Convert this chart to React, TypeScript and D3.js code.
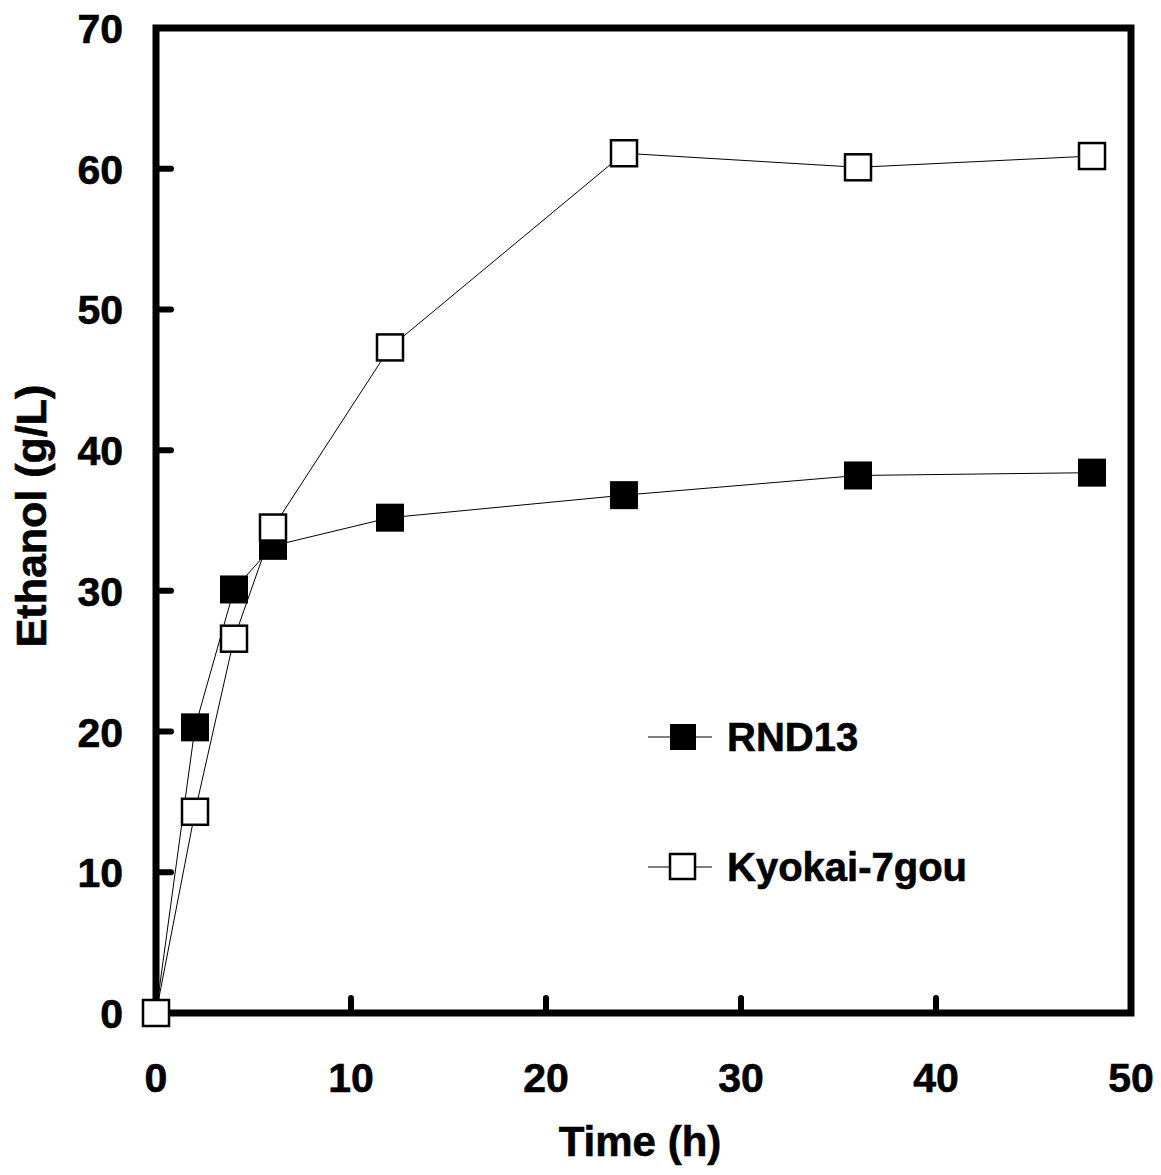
import React from "react";
import * as d3 from "d3";

const timeH = [0, 2, 4, 6, 12, 24, 36, 48];
const rnd13 = [0, 20.3, 30.1, 33.2, 35.2, 36.8, 38.2, 38.4];
const kyokai = [0, 14.3, 26.6, 34.5, 47.3, 61.1, 60.1, 60.9];
const xTicks = [0, 10, 20, 30, 40, 50];
const yTicks = [0, 10, 20, 30, 40, 50, 60, 70];
const seriesNames = ["RND13", "Kyokai-7gou"];

const W = 1161;
const H = 1175;
const FONT = "'Liberation Sans', Arial, sans-serif";

export default function App() {
  const x = d3.scaleLinear().domain([0, 50]).range([156, 1131]);
  const y = d3.scaleLinear().domain([0, 70]).range([1013, 28]);
  const line = d3
    .line<[number, number]>()
    .x((d) => x(d[0]))
    .y((d) => y(d[1]));
  const rndPts: [number, number][] = timeH.map((t, i) => [t, rnd13[i]]);
  const kyoPts: [number, number][] = timeH.map((t, i) => [t, kyokai[i]]);
  const S = 28;
  const txt = { fontFamily: FONT, fontWeight: "bold" as const, stroke: "#000", strokeWidth: 0.6 };

  return (
    <svg
      width={W}
      height={H}
      style={{ position: "absolute", left: 0, top: 0, background: "#fff" }}
    >
      <rect x={0} y={0} width={W} height={H} fill="#fff" />
      {xTicks.slice(1, -1).map((t) => (
        <line
          key={"xt" + t}
          x1={x(t)}
          x2={x(t)}
          y1={y(0)}
          y2={y(0) - 15}
          stroke="#000"
          strokeWidth={6}
          strokeLinecap="round"
        />
      ))}
      {yTicks.slice(1, -1).map((t) => (
        <line
          key={"yt" + t}
          x1={x(0)}
          x2={x(0) + 15}
          y1={y(t)}
          y2={y(t)}
          stroke="#000"
          strokeWidth={6}
          strokeLinecap="round"
        />
      ))}
      <rect
        x={x(0)}
        y={y(70)}
        width={x(50) - x(0)}
        height={y(0) - y(70)}
        fill="none"
        stroke="#000"
        strokeWidth={7}
      />
      {xTicks.map((t) => (
        <text key={"xl" + t} x={x(t)} y={1092} textAnchor="middle" fontSize={41} {...txt}>
          {t}
        </text>
      ))}
      {yTicks.map((t) => (
        <text key={"yl" + t} x={123} y={y(t) + 15} textAnchor="end" fontSize={41} {...txt}>
          {t}
        </text>
      ))}
      <text x={640} y={1156} textAnchor="middle" fontSize={42} {...txt}>
        Time (h)
      </text>
      <text
        transform={`translate(46,516) rotate(-90)`}
        textAnchor="middle"
        fontSize={43}
        {...txt}
      >
        Ethanol (g/L)
      </text>
      <path d={line(rndPts) || ""} fill="none" stroke="#000" strokeWidth={1} />
      <path d={line(kyoPts) || ""} fill="none" stroke="#000" strokeWidth={1} />
      {rndPts.map((p, i) => (
        <rect
          key={"r" + i}
          x={x(p[0]) - S / 2}
          y={y(p[1]) - S / 2}
          width={S}
          height={S}
          fill="#000"
        />
      ))}
      {kyoPts.map((p, i) => (
        <rect
          key={"k" + i}
          x={x(p[0]) - (S - 2) / 2}
          y={y(p[1]) - (S - 2) / 2}
          width={S - 2}
          height={S - 2}
          fill="#fff"
          stroke="#000"
          strokeWidth={2.5}
        />
      ))}
      <line x1={648} x2={712} y1={737} y2={737} stroke="#000" strokeWidth={1} />
      <rect x={670} y={724} width={26} height={26} fill="#000" />
      <text x={727} y={751} fontSize={40} {...txt}>
        {seriesNames[0]}
      </text>
      <line x1={648} x2={712} y1={867} y2={867} stroke="#000" strokeWidth={1} />
      <rect
        x={670}
        y={854}
        width={25}
        height={25}
        fill="#fff"
        stroke="#000"
        strokeWidth={2.5}
      />
      <text x={727} y={881} fontSize={40} {...txt}>
        {seriesNames[1]}
      </text>
    </svg>
  );
}
